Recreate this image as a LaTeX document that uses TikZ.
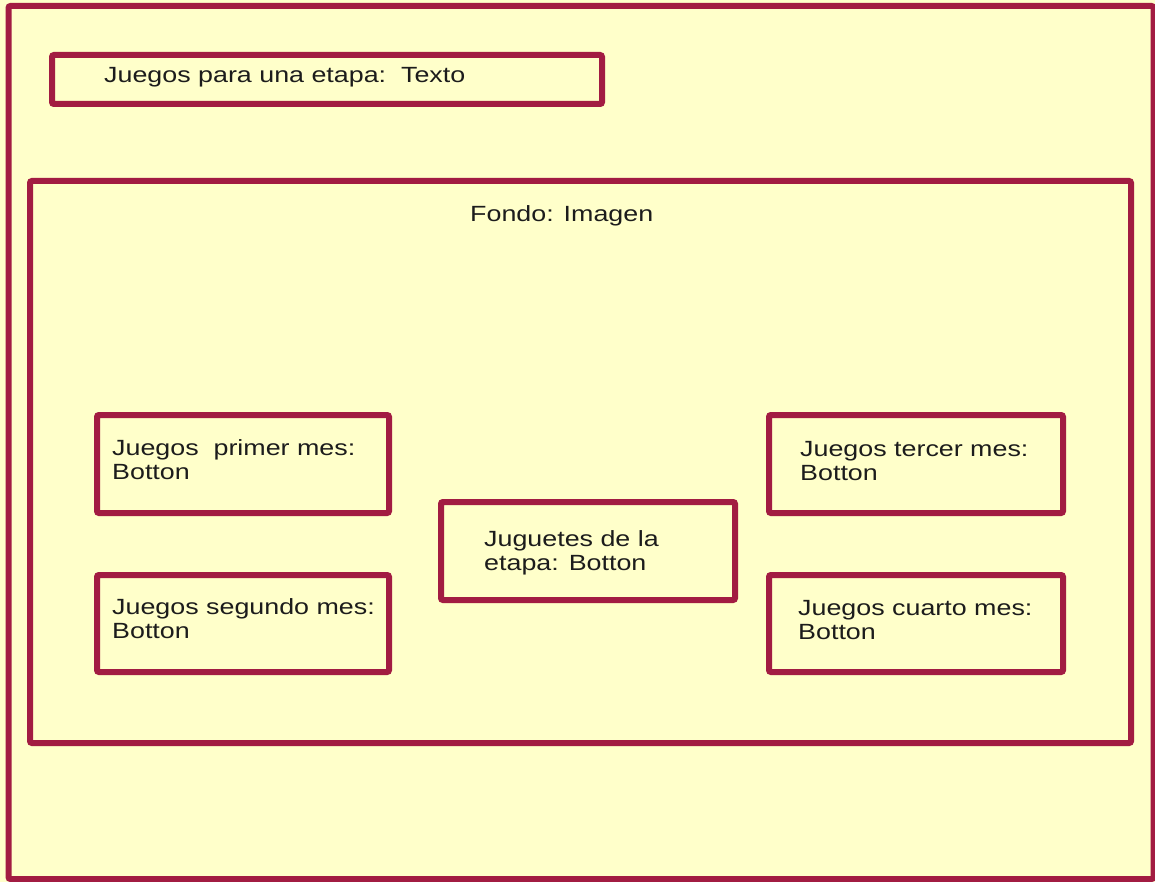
\documentclass[tikz,border=0pt]{standalone}
\usepackage{fontspec}
\setmainfont{Liberation Sans}
\definecolor{paper}{RGB}{255,255,202}
\definecolor{frame}{RGB}{162,28,66}
\definecolor{ink}{RGB}{28,28,28}
% horizontally widened text block, one or more left-aligned lines
\newcommand{\widetext}[1]{\scalebox{1.22}[1]{\begin{tabular}[t]{@{}l@{}}#1\end{tabular}}}
\begin{document}
\begin{tikzpicture}[x=1pt,y=-1pt,
  panel/.style={draw=frame, line width=6pt, rounded corners=2pt, inner sep=0pt},
  lbl/.style={anchor=base west, inner sep=0pt, text=ink,
    font=\fontsize{22}{24}\selectfont}]
  \useasboundingbox (0,0) rectangle (1155,882);
  \fill[paper] (0,0) rectangle (1155,882);
  % outer frame
  \node[panel, minimum width=1145pt, minimum height=873pt] (page) at (581,442.5) {};
  % title bar
  \node[panel, minimum width=550pt, minimum height=49pt] (title) at (327,79.5) {};
  \node[lbl] (titletxt) at (104,83) {\widetext{Juegos para una etapa:\ \ Texto}};
  % background area
  \node[panel, minimum width=1101pt, minimum height=562pt] (fondo) at (580.5,462) {};
  \node[lbl] (fondotxt) at (470,222) {\widetext{Fondo: Imagen}};
  % buttons
  \node[panel, minimum width=292pt, minimum height=98pt] (b1) at (243,464) {};
  \node[lbl] (b1txt) at (112,455) {\widetext{Juegos\ \ primer mes:\\Botton}};
  \node[panel, minimum width=292pt, minimum height=97pt] (b2) at (243,623.5) {};
  \node[lbl] (b2txt) at (112,614) {\widetext{Juegos segundo mes:\\Botton}};
  \node[panel, minimum width=294pt, minimum height=98pt] (bc) at (588,551) {};
  \node[lbl] (bctxt) at (484,546) {\widetext{Juguetes de la\\etapa: Botton}};
  \node[panel, minimum width=294pt, minimum height=98pt] (b3) at (916,464) {};
  \node[lbl] (b3txt) at (800,456) {\widetext{Juegos tercer mes:\\Botton}};
  \node[panel, minimum width=294pt, minimum height=97pt] (b4) at (916,623.5) {};
  \node[lbl] (b4txt) at (798,615) {\widetext{Juegos cuarto mes:\\Botton}};
\end{tikzpicture}
\end{document}
